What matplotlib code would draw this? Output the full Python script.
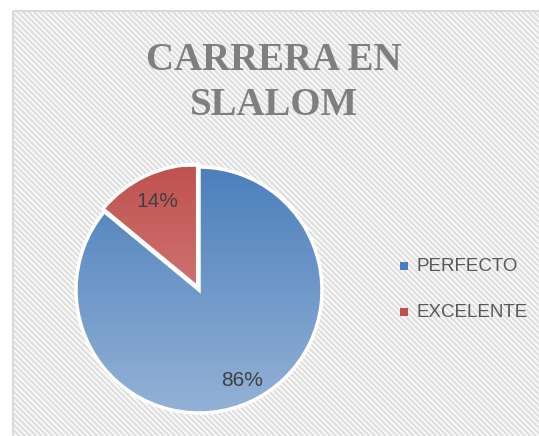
import numpy as np
import matplotlib
matplotlib.use("Agg")
import matplotlib.pyplot as plt
from matplotlib.patches import Rectangle
import matplotlib.colors as mcolors

title = "CARRERA EN\nSLALOM"
categories = ["PERFECTO", "EXCELENTE"]
values = [86, 14]
labels_pct = ["86%", "14%"]
top_colors = ["#4A7EBB", "#C0504D"]
bottom_colors = ["#95B3D7", "#DA9694"]

W, H = 539, 436
fig = plt.figure(figsize=(W / 100, H / 100), dpi=100)
fig.patch.set_facecolor("white")

# background axes in pixel coords
bg = fig.add_axes([0, 0, 1, 1])
bg.set_xlim(0, W)
bg.set_ylim(H, 0)
bg.axis("off")
plt.rcParams['hatch.linewidth'] = 1.8
plt.rcParams['hatch.color'] = '#E0E0E0'
bg.add_patch(Rectangle((13, 11), W, H, facecolor="white", edgecolor="#E0E0E0",
                       hatch="\\" * 6, linewidth=0))
bg.add_patch(Rectangle((13, 11), W, H, facecolor="none", edgecolor="#D9D9D9", linewidth=1.5))

fig.text(274 / W, 1 - 83 / H, title, ha="center", va="center", fontsize=28,
         family="Liberation Serif", fontweight="bold", color="#7F7F7F",
         linespacing=1.3)

# pie
cx, cy, r = 199, 290, 123
ax = fig.add_axes([(cx - r) / W, 1 - (cy + r) / H, 2 * r / W, 2 * r / H])
wedges, _ = ax.pie(values, startangle=90, counterclock=False, radius=1,
                   explode=[0, 0.025],
                   wedgeprops=dict(edgecolor="white", linewidth=2.5))
ax.set_aspect("equal")

for w, c1, c2 in zip(wedges, top_colors, bottom_colors):
    cmap = mcolors.LinearSegmentedColormap.from_list("g", [c2, c1])
    grad = np.linspace(0, 1, 256).reshape(-1, 1)
    im = ax.imshow(grad, cmap=cmap, extent=[-1.05, 1.05, -1.05, 1.05],
                   origin="lower", aspect="auto", zorder=w.get_zorder() - 0.1)
    im.set_clip_path(w)
    w.set_facecolor("none")
ax.set_xlim(-1.0, 1.0)
ax.set_ylim(-1.0, 1.0)

# pct labels in pixel coords
label_pos = [(242, 380), (157, 201)]
for (px, py), t in zip(label_pos, labels_pct):
    fig.text(px / W, 1 - py / H, t, ha="center", va="center", fontsize=15,
             family="Liberation Sans", color="#404040")

# legend
leg_y = [266, 312]
for y, name, c in zip(leg_y, categories, top_colors):
    bg.add_patch(Rectangle((400, y - 4), 8, 8, facecolor=c, edgecolor="none"))
    bg.text(417, y, name, ha="left", va="center", fontsize=13.5,
            family="Liberation Sans", color="#595959")

fig.savefig("out.png", dpi=100)
